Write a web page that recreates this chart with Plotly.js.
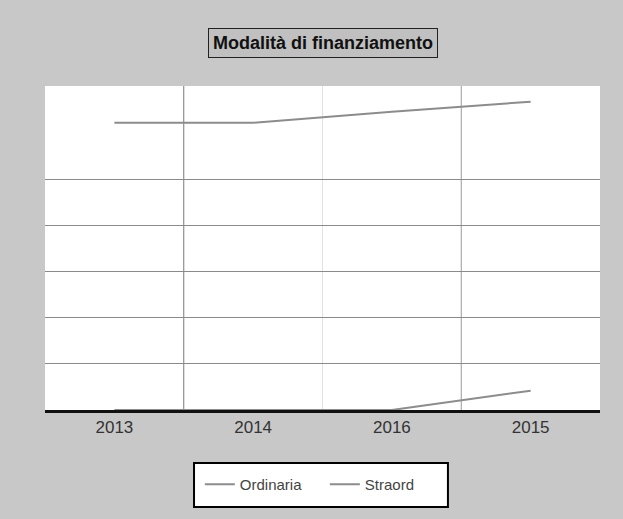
<!DOCTYPE html>
<html>
<head>
<meta charset="utf-8">
<script src="https://cdn.plot.ly/plotly-3.0.1.min.js"></script>
<style>html,body{margin:0;padding:0;background:#c8c8c8;}#chart{width:623px;height:519px;}</style>
</head>
<body>
<div id="chart"></div>
<script>
const categories = ["2013", "2014", "2016", "2015"];
const ordinaria = [6.24, 6.24, 6.48, 6.70];
const straord = [0, 0, 0, 0.42];
const seriesNames = ["Ordinaria", "Straord"];
const chartTitle = "Modalità di finanziamento";
const gridValues = [1, 2, 3, 4, 5];

const traces = [
  {x: categories, y: ordinaria, name: seriesNames[0], type: "scatter", mode: "lines",
   line: {color: "#8c8c8c", width: 2}},
  {x: categories, y: straord, name: seriesNames[1], type: "scatter", mode: "lines",
   line: {color: "#8c8c8c", width: 2}}
];

const layout = {
  width: 623, height: 519,
  paper_bgcolor: "#c8c8c8",
  plot_bgcolor: "#ffffff",
  margin: {l: 45, r: 23, t: 86, b: 109},
  font: {family: "Liberation Sans, Arial, sans-serif", size: 12, color: "#333"},
  showlegend: true,
  legend: {
    orientation: "h", x: 0.279, xanchor: "left", y: -0.179, yanchor: "top",
    bgcolor: "rgba(0,0,0,0)", borderwidth: 0,
    font: {size: 15, color: "#444"}, entrywidth: 80
  },
  xaxis: {
    type: "category", range: [-0.5, 3.5], showgrid: false,
    ticks: "", showline: true, linecolor: "#111", linewidth: 3,
    tickfont: {size: 17, color: "#333"}, zeroline: false, fixedrange: true
  },
  yaxis: {
    range: [0, 7.04], tickvals: gridValues, showticklabels: false, showgrid: true,
    gridcolor: "#8a8a8a", gridwidth: 1, zeroline: false, ticks: "", fixedrange: true
  },
  shapes: [
    {type: "line", xref: "x", yref: "paper", x0: 0.5, x1: 0.5, y0: 0, y1: 1,
     line: {color: "#7a7a7a", width: 1}, layer: "below"},
    {type: "line", xref: "x", yref: "paper", x0: 1.5, x1: 1.5, y0: 0, y1: 1,
     line: {color: "#e2e2e2", width: 1}, layer: "below"},
    {type: "line", xref: "x", yref: "paper", x0: 2.5, x1: 2.5, y0: 0, y1: 1,
     line: {color: "#9a9a9a", width: 1}, layer: "below"},
    {type: "rect", xref: "paper", yref: "paper", x0: 0.2685, x1: 0.726, y0: -0.1636, y1: -0.2994,
     fillcolor: "#ffffff", line: {color: "#000000", width: 2}, layer: "below"}
  ],
  annotations: [
    {xref: "paper", yref: "paper", x: 0.5, y: 1.1327, xanchor: "center", yanchor: "middle",
     text: "<b>" + chartTitle + "</b>", showarrow: false,
     font: {size: 18, color: "#111"}, bgcolor: "#c0c0c0",
     bordercolor: "#222", borderwidth: 1, borderpad: 4}
  ]
};

Plotly.newPlot("chart", traces, layout, {displayModeBar: false, staticPlot: true});
</script>
</body>
</html>
